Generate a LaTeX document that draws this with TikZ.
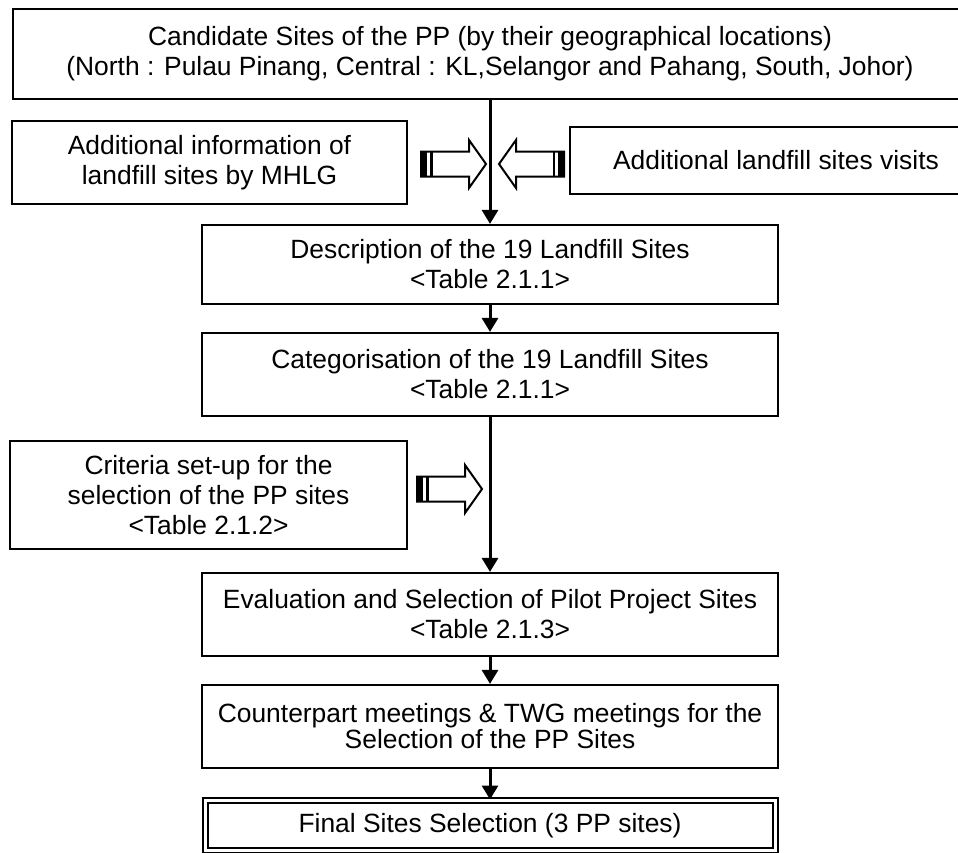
\documentclass[tikz,border=0pt]{standalone}
\usepackage{fontspec}
\setmainfont{Liberation Sans}
\usetikzlibrary{arrows.meta}
\begin{document}
\begin{tikzpicture}[x=1pt,y=-1pt,
  box/.style={draw=black, line width=2.2pt, align=center, inner sep=0pt,
    font=\fontsize{26.4pt}{30pt}\selectfont},
  flow/.style={line width=3pt, -{Triangle[width=16pt,length=14pt]}},
  hollowarrow/.pic={
    \fill[black] (0,-12.5) rectangle (6,12.5);
    \fill[black] (9,-12.5) rectangle (11.5,12.5);
    \draw[line width=2pt, line join=miter]
      (0,-12.5) -- (48,-12.5) -- (48,-24) -- (65,0) -- (48,24) -- (48,12.5) -- (0,12.5) -- cycle;
  }]
\useasboundingbox (0,0) rectangle (958,852);
\fill[white] (0,0) rectangle (958,852);
\clip (0,0) rectangle (958,852);

\node[box, minimum width=954pt, minimum height=90pt] (cand) at (490,54)
  {Candidate Sites of the PP (by their geographical locations)\\(North : Pulau Pinang, Central : KL,Selangor and Pahang, South, Johor)};
\node[box, minimum width=395pt, minimum height=83pt] (mhlg) at (209.5,162.5)
  {Additional information of\\landfill sites by MHLG};
\node[box, minimum width=412pt, minimum height=67pt] (visit) at (776,160.5)
  {Additional landfill sites visits};
\node[box, minimum width=576pt, minimum height=79pt] (desc) at (490,264.5)
  {Description of the 19 Landfill Sites\\<Table 2.1.1>};
\node[box, minimum width=576pt, minimum height=83pt] (cat) at (490,374.5)
  {Categorisation of the 19 Landfill Sites\\<Table 2.1.1>};
\node[box, minimum width=397pt, minimum height=108pt] (crit) at (208.5,495)
  {Criteria set-up for the\\selection of the PP sites\\<Table 2.1.2>};
\node[box, minimum width=576pt, minimum height=83pt] (eval) at (490,614.5)
  {Evaluation and Selection of Pilot Project Sites\\<Table 2.1.3>};
\node[box, minimum width=576pt, minimum height=83pt,
  font=\fontsize{26.4pt}{26pt}\selectfont] (meet) at (490,726.5)
  {Counterpart meetings \& TWG meetings for the\\Selection of the PP Sites};
\node[box, line width=2pt, double, double distance=3pt, minimum width=570pt, minimum height=50pt] (final) at (490,825.5)
  {Final Sites Selection (3 PP sites)};

\draw[flow] (cand.south) -- (desc.north);
\draw[flow] (desc.south) -- (cat.north);
\draw[flow] (cat.south) -- (eval.north);
\draw[flow] (eval.south) -- (meet.north);
\draw[flow] (meet.south) -- (final.north);

\pic at (421,164) {hollowarrow};
\pic[xscale=-1] at (564,164) {hollowarrow};
\pic at (417,489) {hollowarrow};
\end{tikzpicture}
\end{document}
